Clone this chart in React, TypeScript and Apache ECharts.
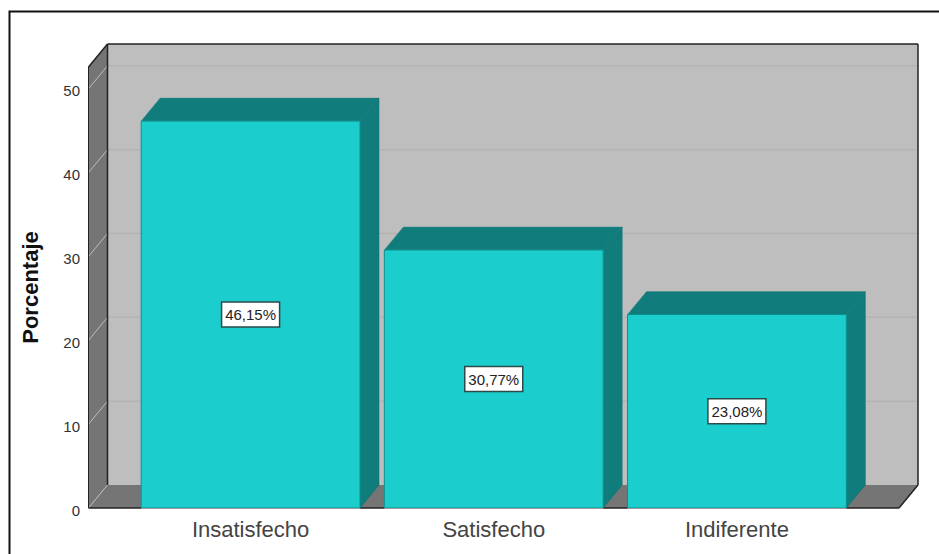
import React, { useEffect, useRef } from "react";
import * as echarts from "echarts";

const categories = ["Insatisfecho", "Satisfecho", "Indiferente"];
const percentages = [46.15, 30.77, 23.08];
const barLabels = ["46,15%", "30,77%", "23,08%"];
const gridTicks = [0, 10, 20, 30, 40, 50];
const yMax = 52.6;
const depthX = 19;
const depthY = -23;
const sidePad = 40.5;

const C = {
  front: "#1BCDCD",
  shade: "#117C7C",
  edge: "#0F8F8F",
  wall: "#BEBEBE",
  dark: "#757575",
  line: "#222222",
  grid: "#B3B3B3",
  sideGrid: "#BDBDBD",
};

function renderWalls(_params: any, api: any) {
  const band = api.size([1, 0])[0];
  const x0 = api.coord([0, 0])[0] - band / 2 - sidePad;
  const x1 = api.coord([2, 0])[0] + band / 2 + sidePad;
  const y0 = api.coord([0, 0])[1];
  const yT = api.coord([0, yMax])[1];
  const children: any[] = [
    {
      type: "polygon",
      shape: { points: [[x0 + depthX, y0 + depthY], [x1 + depthX, y0 + depthY], [x1 + depthX, yT + depthY], [x0 + depthX, yT + depthY]] },
      style: { fill: C.wall },
    },
    {
      type: "polygon",
      shape: { points: [[x0, y0], [x0 + depthX, y0 + depthY], [x0 + depthX, yT + depthY], [x0, yT]] },
      style: { fill: C.dark },
    },
    {
      type: "polygon",
      shape: { points: [[x0, y0], [x1, y0], [x1 + depthX, y0 + depthY], [x0 + depthX, y0 + depthY]] },
      style: { fill: C.dark },
    },
  ];
  gridTicks.forEach((t) => {
    const y = api.coord([0, t])[1];
    if (t > 0) {
      children.push({
        type: "line",
        shape: { x1: x0 + depthX, y1: y + depthY, x2: x1 + depthX, y2: y + depthY },
        style: { stroke: C.grid, lineWidth: 1.5 },
      });
    }
    children.push({
      type: "line",
      shape: { x1: x0, y1: y, x2: x0 + depthX, y2: y + depthY },
      style: { stroke: C.sideGrid, lineWidth: 1 },
    });
  });
  const edge = (a: number[], b: number[], w = 1.5) => ({
    type: "line",
    shape: { x1: a[0], y1: a[1], x2: b[0], y2: b[1] },
    style: { stroke: C.line, lineWidth: w },
  });
  children.push(
    edge([x0, yT], [x0 + depthX, yT + depthY]),
    edge([x0 + depthX, yT + depthY], [x1 + depthX, yT + depthY]),
    edge([x1 + depthX, yT + depthY], [x1 + depthX, y0 + depthY]),
    edge([x0 + depthX, yT + depthY], [x0 + depthX, y0 + depthY]),
    edge([x0, yT], [x0, y0], 1),
    edge([x0, y0], [x1, y0]),
    edge([x1, y0], [x1 + depthX, y0 + depthY])
  );
  return { type: "group", children };
}

function renderBar(params: any, api: any) {
  const i = api.value(0);
  const v = api.value(1);
  const band = api.size([1, 0])[0];
  const w = band * 0.9;
  const top = api.coord([i, v]);
  const base = api.coord([i, 0]);
  const l = top[0] - w / 2;
  const r = top[0] + w / 2;
  const t = top[1];
  const b = base[1];
  const my = (t + b) / 2;
  const lw = 59;
  const lh = 26;
  return {
    type: "group",
    children: [
      {
        type: "polygon",
        shape: { points: [[l, t], [l + depthX, t + depthY], [r + depthX, t + depthY], [r, t]] },
        style: { fill: C.shade, stroke: "#3A8A8A", lineWidth: 0.5 },
      },
      {
        type: "polygon",
        shape: { points: [[r, t], [r + depthX, t + depthY], [r + depthX, b + depthY], [r, b]] },
        style: { fill: C.shade, stroke: "#0E6F6F", lineWidth: 0.5 },
      },
      {
        type: "rect",
        shape: { x: l, y: t, width: w, height: b - t },
        style: { fill: C.front, stroke: C.edge, lineWidth: 1 },
      },
      {
        type: "line",
        shape: { x1: l, y1: b + 0.5, x2: r, y2: b + 0.5 },
        style: { stroke: "#9A9A9A", lineWidth: 1 },
      },
      {
        type: "rect",
        shape: { x: top[0] - lw / 2 + 0.5, y: my - lh / 2 + 0.5, width: lw - 1, height: lh - 1 },
        style: { fill: "#FFFFFF", stroke: "#2B4A4A", lineWidth: 1.5 },
      },
      {
        type: "text",
        x: top[0],
        y: my,
        style: {
          text: barLabels[params.dataIndex],
          fill: "#222222",
          font: '15px "Liberation Sans", Arial, sans-serif',
          align: "center",
          verticalAlign: "middle",
        },
      },
    ],
  };
}

export default function App() {
  const ref = useRef<HTMLDivElement>(null);
  useEffect(() => {
    document.body.style.margin = "0";
    const chart = echarts.init(ref.current!, null, { renderer: "svg" });
    chart.setOption({
      animation: false,
      backgroundColor: "#FFFFFF",
      textStyle: { fontFamily: '"Liberation Sans", Arial, sans-serif' },
      grid: { left: 129, right: 80.5, top: 67, bottom: 46 },
      graphic: [
        {
          type: "rect",
          shape: { x: 9.5, y: 11.5, width: 960, height: 600 },
          style: { fill: "none", stroke: "#111111", lineWidth: 2 },
          silent: true,
        },
      ],
      xAxis: {
        type: "category",
        data: categories,
        axisLine: { show: false },
        axisTick: { show: false },
        axisLabel: { color: "#444444", fontSize: 22, margin: 10 },
      },
      yAxis: {
        type: "value",
        min: 0,
        max: yMax,
        interval: 10,
        splitLine: { show: false },
        axisLine: { show: false },
        axisTick: { show: false },
        axisLabel: {
          color: "#333333",
          fontSize: 15,
          margin: 49,
          showMaxLabel: false,
          formatter: (v: number) => (v % 10 === 0 ? `{t|${v}}` : ""),
          rich: { t: { color: "#333333", fontSize: 15, padding: [4, 0, 0, 0] } },
        },
        name: "Porcentaje",
        nameLocation: "middle",
        nameGap: 88,
        nameTextStyle: { color: "#111111", fontSize: 22, fontWeight: "bold" },
      },
      series: [
        { type: "custom", silent: true, clip: false, z: 1, renderItem: renderWalls, data: [[0, 0]], encode: { x: 0, y: 1 } },
        {
          type: "custom",
          silent: true,
          clip: false,
          z: 2,
          renderItem: renderBar,
          data: percentages.map((v, i) => [i, v]),
          encode: { x: 0, y: 1 },
        },
      ],
    });
    return () => chart.dispose();
  }, []);
  return <div ref={ref} style={{ width: 939, height: 554, position: "absolute", left: 0, top: 0, overflow: "hidden" }} />;
}
